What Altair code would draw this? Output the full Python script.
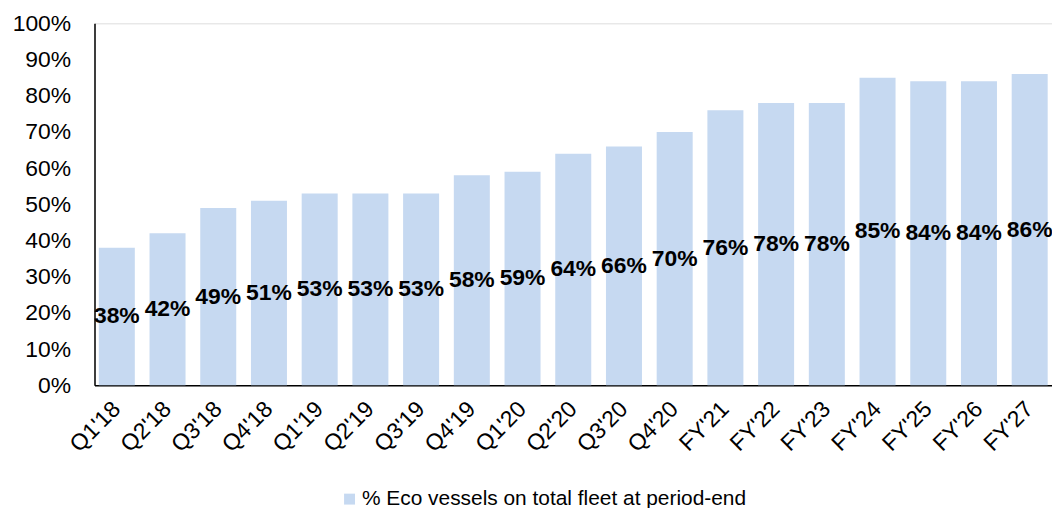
import altair as alt
import pandas as pd

categories = ["Q1'18", "Q2'18", "Q3'18", "Q4'18", "Q1'19", "Q2'19", "Q3'19", "Q4'19",
              "Q1'20", "Q2'20", "Q3'20", "Q4'20", "FY'21", "FY'22", "FY'23", "FY'24",
              "FY'25", "FY'26", "FY'27"]
values = [38, 42, 49, 51, 53, 53, 53, 58, 59, 64, 66, 70, 76, 78, 78, 85, 84, 84, 86]
series_name = "% Eco vessels on total fleet at period-end"
y_ticks = [0, 10, 20, 30, 40, 50, 60, 70, 80, 90, 100]

df = pd.DataFrame({"cat": categories, "val": values, "series": series_name})
df["half"] = df["val"] / 2
df["lbl"] = df["val"].astype(str) + "%"

FONT = "Liberation Sans"

x_axis = alt.Axis(labelAngle=-45, labelAlign="right", labelBaseline="middle",
                  labelPadding=20, ticks=False, tickSize=0, labelFontSize=23,
                  labelFont=FONT, labelColor="#000", domainColor="#000",
                  domainWidth=1.5, labelOverlap=False)
y_axis = alt.Axis(values=y_ticks, labelExpr="datum.value + '%'", grid=False,
                  ticks=False, tickSize=0, labelPadding=24, labelFontSize=23,
                  labelFont=FONT, labelColor="#000", domainColor="#000",
                  domainWidth=1.5, labelOverlap=False)
x_scale = alt.Scale(paddingInner=0.29, paddingOuter=0.085)
y_scale = alt.Scale(domain=[0, 100], nice=False)

bars = alt.Chart(df).mark_bar(color="#c6d9f1").encode(
    x=alt.X("cat:N", sort=categories, title=None, scale=x_scale, axis=x_axis),
    y=alt.Y("val:Q", title=None, scale=y_scale, axis=y_axis),
    color=alt.Color("series:N", scale=alt.Scale(range=["#c6d9f1"]), title=None,
                    legend=alt.Legend(orient="none", legendX=246, legendY=468,
                                      symbolType="square", symbolSize=121,
                                      symbolStrokeWidth=0, labelFontSize=21,
                                      labelFont=FONT, labelColor="#000",
                                      labelLimit=600, padding=0, symbolOffset=0,
                                      labelOffset=2)),
)

labels = alt.Chart(df).mark_text(font=FONT, fontSize=23, fontWeight="bold",
                                 color="#000", baseline="middle", align="center").encode(
    x=alt.X("cat:N", sort=categories, title=None, scale=x_scale, axis=x_axis),
    y=alt.Y("half:Q", title=None, scale=y_scale, axis=y_axis),
    text="lbl:N",
)

chart = (bars + labels).properties(
    width=963, height=364,
    autosize=alt.AutoSizeParams(type="none"),
    padding={"left": 87, "top": 14, "right": 0, "bottom": 122},
).configure_view(stroke=None).configure(background="white")

chart.save("out.html", embed_options={"renderer": "svg", "actions": False})
